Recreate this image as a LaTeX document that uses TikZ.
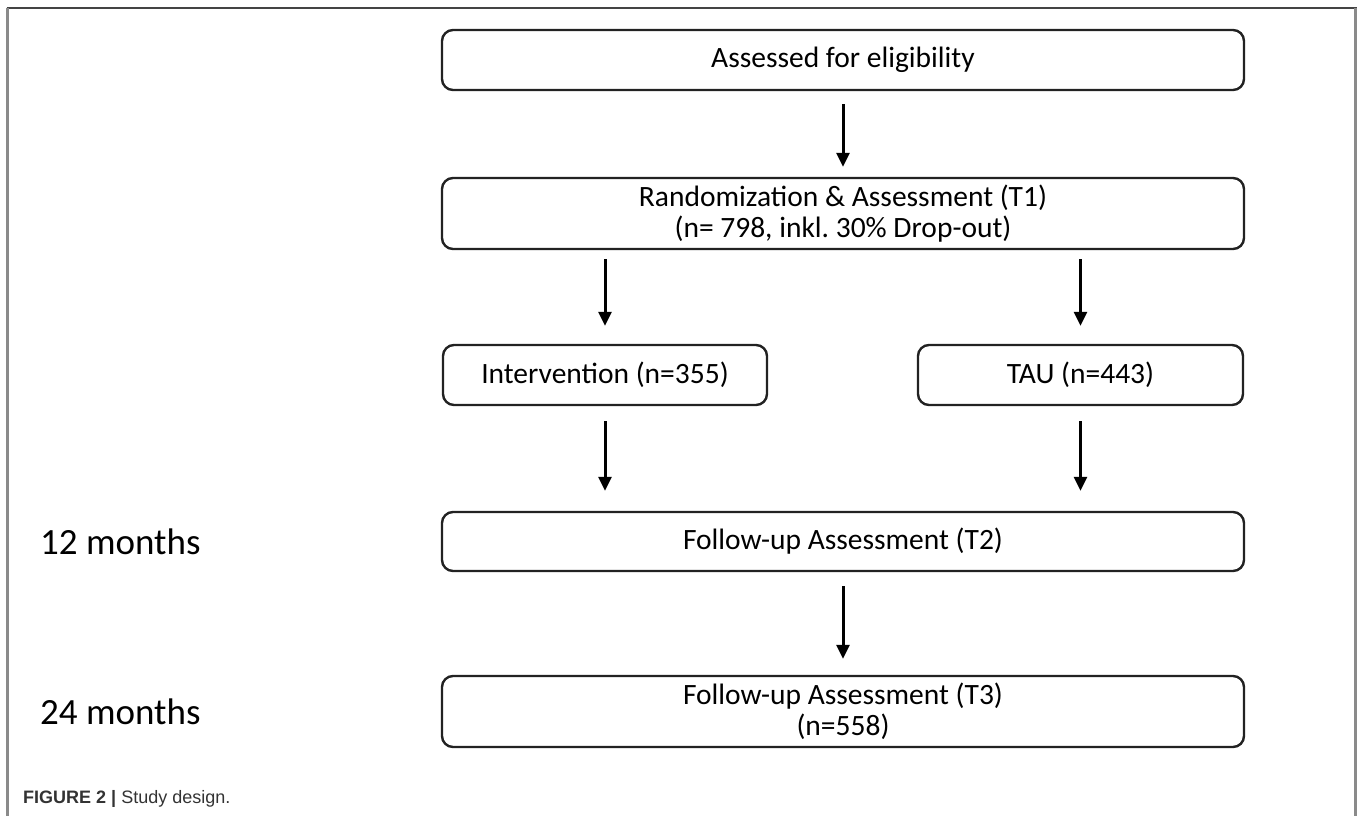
\documentclass[tikz,border=0pt]{standalone}
\usepackage{fontspec}
\setmainfont{Carlito}
\newfontfamily\capfont{Liberation Sans}
\usetikzlibrary{arrows.meta}
\definecolor{boxline}{HTML}{222222}
\definecolor{framedark}{HTML}{444444}
\definecolor{framelight}{HTML}{8A8A8A}
\definecolor{captxt}{HTML}{333333}
\tikzset{
  stepbox/.style={draw=boxline, line width=2.4pt, rounded corners=11pt, inner sep=0pt,
    align=center, font=\fontsize{29.5}{31}\selectfont},
  flowarrow/.style={line width=3pt, -{Triangle[width=13pt,length=14pt]}},
  timelabel/.style={anchor=west, inner sep=0pt, font=\fontsize{37}{40}\selectfont},
}
\begin{document}
\begin{tikzpicture}[x=1pt, y=-1pt]
\useasboundingbox (0,0) rectangle (1357,816);
% frame
\draw[framedark, line width=2pt] (6.5,8) -- (1357,8);
\draw[framelight, line width=2.5pt] (7.5,8) -- (7.5,816);
\draw[framelight, line width=2.5pt] (1355.5,8) -- (1355.5,816);
% boxes
\node[stepbox, minimum width=802pt, minimum height=60pt] (elig) at (843,60) {Assessed for eligibility};
\node[stepbox, minimum width=802pt, minimum height=71pt] (rand) at (843,213.5) {Randomization \& Assessment (T1)\\(n= 798, inkl.\ 30\% Drop-out)};
\node[stepbox, minimum width=324pt, minimum height=60pt] (int) at (605,375) {Intervention (n=355)};
\node[stepbox, minimum width=325pt, minimum height=60pt] (tau) at (1080.5,375) {TAU (n=443)};
\node[stepbox, minimum width=802pt, minimum height=59pt] (ftwo) at (843,541.5) {Follow-up Assessment (T2)};
\node[stepbox, minimum width=802pt, minimum height=71pt] (fthree) at (843,711.5) {Follow-up Assessment (T3)\\(n=558)};
% time labels
\node[timelabel] (m12) at (40,541.5) {12 months};
\node[timelabel] (m24) at (40,711.5) {24 months};
% arrows
\draw[flowarrow, shorten <=13pt, shorten >=10pt] (elig.south) -- (rand.north);
\draw[flowarrow, shorten <=9pt, shorten >=18pt] (rand.south -| int.north) -- (int.north);
\draw[flowarrow, shorten <=9pt, shorten >=18pt] (rand.south -| tau.north) -- (tau.north);
\draw[flowarrow, shorten <=15pt, shorten >=20pt] (int.south) -- (ftwo.north -| int.south);
\draw[flowarrow, shorten <=15pt, shorten >=20pt] (tau.south) -- (ftwo.north -| tau.south);
\draw[flowarrow, shorten <=14pt, shorten >=16pt] (ftwo.south) -- (fthree.north);
% caption
\node[anchor=base west, inner sep=0pt, text=captxt, font=\capfont\fontsize{18}{20}\selectfont] (cap) at (23,803) {\textbf{FIGURE 2 |} Study design.};
\end{tikzpicture}
\end{document}
